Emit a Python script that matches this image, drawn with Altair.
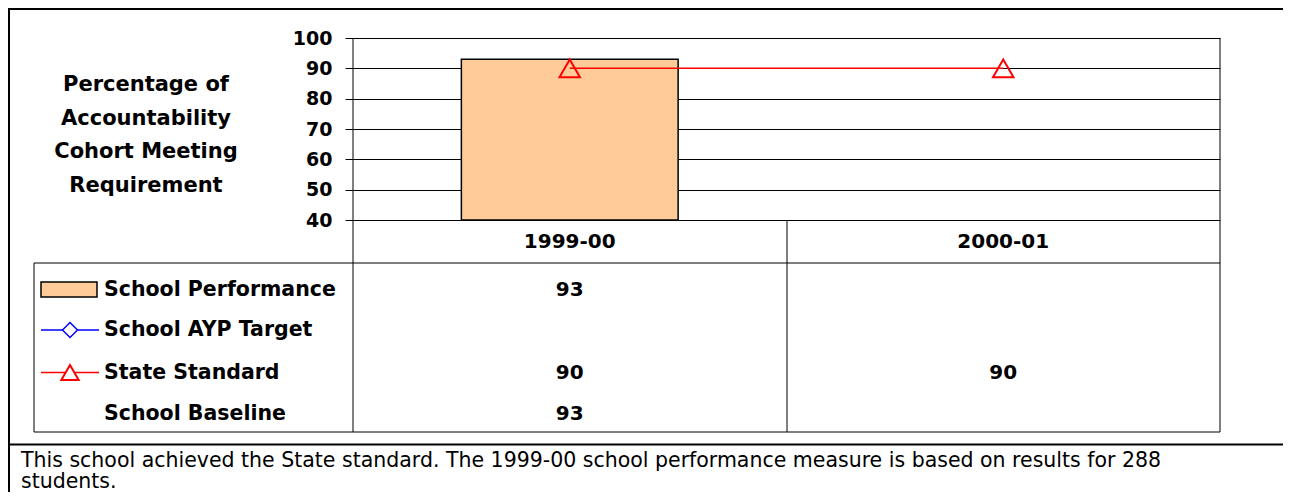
import altair as alt
import pandas as pd

# ---------------- data ----------------
categories = ["1999-00", "2000-01"]
series_names = ["School Performance", "School AYP Target", "State Standard", "School Baseline"]
school_performance = [93, None]
school_ayp_target = [None, None]
state_standard = [90, 90]
school_baseline = [93, None]
y_ticks = [40, 50, 60, 70, 80, 90, 100]
title_lines = ["Percentage of", "Accountability", "Cohort Meeting", "Requirement"]
footnote_lines = [
    "This school achieved the State standard. The 1999-00 school performance measure is based on results for 288",
    "students.",
]

# ---------------- layout (pixels, relative to plot area) ----------------
W, H = 867, 182
PAD = {"left": 345, "top": 30, "right": 63, "bottom": 272}
FONT = "DejaVu Sans"
ROW_Y = [251.5, 292, 334.5, 376]
HEADER_Y = 204
TABLE_TOP, TABLE_BOTTOM, TABLE_LEFT = 225, 394, -319
MID_X = 434

series_values = [school_performance, school_ayp_target, state_standard, school_baseline]

bar_df = pd.DataFrame({"cat": categories, "value": school_performance}).dropna()
std_df = pd.DataFrame({"cat": categories, "value": state_standard}).dropna()
table_rows = []
for name, vals in zip(series_names, series_values):
    for c, v in zip(categories, vals):
        if v is not None:
            table_rows.append({"series": name, "cat": c, "label": str(v)})
table_df = pd.DataFrame(table_rows)
cat_df = pd.DataFrame({"cat": categories})
one = pd.DataFrame({"k": [0]})

x_scale = alt.Scale(domain=categories, paddingInner=0, paddingOuter=0)
x_enc = alt.X("cat:N", scale=x_scale, axis=None)
y_scale = alt.Scale(domain=[40, 100], nice=False, zero=False)
y_axis = alt.Axis(
    values=y_ticks, grid=True, gridColor="black", gridOpacity=1, gridWidth=1,
    domain=False, ticks=True, tickColor="black", tickSize=8, tickWidth=1,
    labelFont=FONT, labelFontWeight="bold", labelFontSize=19, labelColor="black",
    labelPadding=13, labelOverlap=False, title=None,
)

bars = alt.Chart(bar_df).mark_bar(
    width=alt.RelativeBandSize(0.5), fill="#FFCC99", stroke="black", strokeWidth=1.5
).encode(x=x_enc, y=alt.Y("value:Q", scale=y_scale, axis=y_axis), y2=alt.datum(40))

std_line = alt.Chart(std_df).mark_line(color="#FF0000", strokeWidth=1.5).encode(
    x=x_enc, y=alt.Y("value:Q", scale=y_scale, axis=y_axis)
)
std_pts = alt.Chart(std_df).mark_point(
    shape="triangle-up", size=420, filled=False, stroke="#FF0000", strokeWidth=2, opacity=1
).encode(x=x_enc, y=alt.Y("value:Q", scale=y_scale, axis=y_axis))


def rule(x1, x2, y1, y2, w=1, color="black"):
    return alt.Chart(one).mark_rule(color=color, strokeWidth=w).encode(
        x=alt.value(x1), x2=alt.value(x2), y=alt.value(y1), y2=alt.value(y2)
    )


lines = [
    # table grid
    rule(0, 0, 0, TABLE_BOTTOM),
    rule(W, W, 0, TABLE_BOTTOM),
    rule(MID_X, MID_X, H, TABLE_BOTTOM),
    rule(TABLE_LEFT, W, TABLE_TOP, TABLE_TOP),
    rule(TABLE_LEFT, W, TABLE_BOTTOM, TABLE_BOTTOM),
    rule(TABLE_LEFT, TABLE_LEFT, TABLE_TOP, TABLE_BOTTOM),
    # outer frame
    rule(-344, -344, -30, 470, w=2),
    rule(-345, 940, -29, -29, w=2),
    rule(-345, 940, 406.5, 406.5, w=2),
]

header = alt.Chart(cat_df).mark_text(
    font=FONT, fontWeight="bold", fontSize=20, baseline="middle", color="black"
).encode(x=x_enc, y=alt.value(HEADER_Y), text="cat:N")

value_layers = []
for name, ry in zip(series_names, ROW_Y):
    value_layers.append(
        alt.Chart(table_df).transform_filter(alt.datum.series == name).mark_text(
            font=FONT, fontWeight="bold", fontSize=20, baseline="middle", color="black"
        ).encode(x=x_enc, y=alt.value(ry), text="label:N")
    )

legend_labels = []
for name, ry in zip(series_names, ROW_Y):
    legend_labels.append(
        alt.Chart(one).mark_text(
            font=FONT, fontWeight="bold", fontSize=20.5, baseline="middle", align="left", color="black"
        ).encode(x=alt.value(-249), y=alt.value(ry), text=alt.value(name))
    )

swatch = alt.Chart(one).mark_rect(fill="#FFCC99", stroke="black", strokeWidth=1.5).encode(
    x=alt.value(-312), x2=alt.value(-256), y=alt.value(ROW_Y[0] - 7.5), y2=alt.value(ROW_Y[0] + 7.5)
)
ayp_line = rule(-312, -254, ROW_Y[1], ROW_Y[1], w=1.5, color="#0000FF")
ayp_sym = alt.Chart(one).mark_point(
    shape="diamond", size=225, filled=True, fill="white", stroke="#0000FF", strokeWidth=1.5, opacity=1
).encode(x=alt.value(-283), y=alt.value(ROW_Y[1]))
std_leg_line = rule(-312, -254, ROW_Y[2], ROW_Y[2], w=1.5, color="#FF0000")
std_leg_sym = alt.Chart(one).mark_point(
    shape="triangle-up", size=300, filled=True, fill="white", stroke="#FF0000", strokeWidth=2, opacity=1
).encode(x=alt.value(-283), y=alt.value(ROW_Y[2]))

left_title = alt.Chart(one).mark_text(
    font=FONT, fontWeight="bold", fontSize=21, baseline="alphabetic", align="center",
    lineHeight=33.7, color="black"
).encode(x=alt.value(-207), y=alt.value(53), text=alt.value(title_lines))

footnote = alt.Chart(one).mark_text(
    font=FONT, fontSize=20.5, baseline="alphabetic", align="left", lineHeight=21.5, color="black"
).encode(x=alt.value(-332), y=alt.value(428.5), text=alt.value(footnote_lines))

chart = alt.layer(
    bars, *lines, std_line, std_pts, header, *value_layers, *legend_labels,
    swatch, ayp_line, ayp_sym, std_leg_line, std_leg_sym, left_title, footnote,
).properties(
    width=W, height=H, padding=PAD, autosize=alt.AutoSizeParams(type="none"),
    background="white",
).configure_view(strokeWidth=0)

chart.save("out.html", embed_options={"renderer": "svg", "actions": False})
